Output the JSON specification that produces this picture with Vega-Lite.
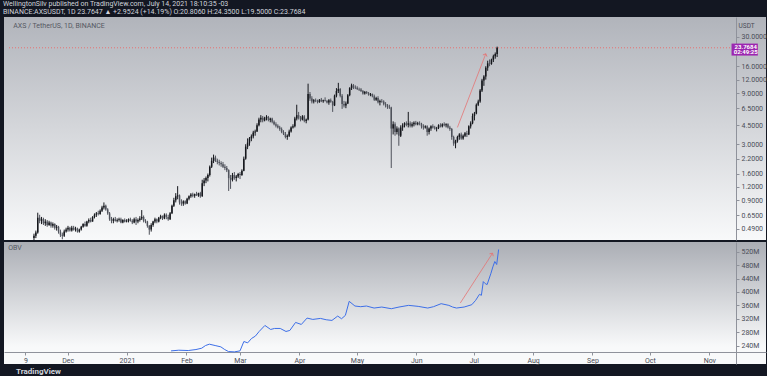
{
"$schema":"https://vega.github.io/schema/vega-lite/v6.json",
"background":"#131722",
"padding":{"left":3,"top":0,"right":0,"bottom":0},
"spacing":1,
"config":{"font":"Roboto","view":{"stroke":null},
 "axis":{"grid":false,"domainColor":"#8f929b","tickColor":"#8f929b","tickSize":3,"labelColor":"#4a4d57","labelFontSize":7,"labelPadding":2,"labelOverlap":false,"labelBound":false,"labelFlush":false},
 "axisX":{"labelPadding":1}},
"title":{"text":"WellingtonSilv published on TradingView.com, July 14, 2021 18:10:35 -03","subtitle":"BINANCE:AXSUSDT, 1D 23.7647 ▲ +2.9524 (+14.19%) O:20.8060 H:24.3500 L:19.5000 C:23.7684","anchor":"start","fontSize":7,"fontWeight":"normal","color":"#d1d4dc","subtitleFontSize":7,"subtitleColor":"#d1d4dc","subtitlePadding":1,"offset":2,"dx":-1},
"datasets":{
"c":[
{"t":"2020-11-11","o":0.40,"h":0.44,"l":0.38,"c":0.42},
{"t":"2020-11-12","o":0.42,"h":0.47,"l":0.40,"c":0.45},
{"t":"2020-11-13","o":0.45,"h":0.69,"l":0.44,"c":0.62},
{"t":"2020-11-14","o":0.62,"h":0.66,"l":0.55,"c":0.58},
{"t":"2020-11-15","o":0.58,"h":0.63,"l":0.54,"c":0.60},
{"t":"2020-11-16","o":0.60,"h":0.62,"l":0.53,"c":0.55},
{"t":"2020-11-17","o":0.55,"h":0.60,"l":0.52,"c":0.57},
{"t":"2020-11-18","o":0.57,"h":0.59,"l":0.51,"c":0.53},
{"t":"2020-11-19","o":0.53,"h":0.58,"l":0.52,"c":0.56},
{"t":"2020-11-20","o":0.56,"h":0.57,"l":0.50,"c":0.52},
{"t":"2020-11-21","o":0.52,"h":0.56,"l":0.50,"c":0.54},
{"t":"2020-11-22","o":0.54,"h":0.55,"l":0.48,"c":0.50},
{"t":"2020-11-23","o":0.50,"h":0.53,"l":0.47,"c":0.51},
{"t":"2020-11-24","o":0.51,"h":0.52,"l":0.44,"c":0.46},
{"t":"2020-11-25","o":0.46,"h":0.48,"l":0.41,"c":0.43},
{"t":"2020-11-26","o":0.43,"h":0.45,"l":0.39,"c":0.42},
{"t":"2020-11-27","o":0.42,"h":0.48,"l":0.41,"c":0.46},
{"t":"2020-11-28","o":0.46,"h":0.50,"l":0.45,"c":0.48},
{"t":"2020-11-29","o":0.48,"h":0.52,"l":0.46,"c":0.50},
{"t":"2020-11-30","o":0.50,"h":0.51,"l":0.46,"c":0.47},
{"t":"2020-12-01","o":0.47,"h":0.52,"l":0.46,"c":0.50},
{"t":"2020-12-02","o":0.50,"h":0.52,"l":0.47,"c":0.48},
{"t":"2020-12-03","o":0.48,"h":0.51,"l":0.46,"c":0.49},
{"t":"2020-12-04","o":0.49,"h":0.50,"l":0.45,"c":0.46},
{"t":"2020-12-05","o":0.46,"h":0.49,"l":0.45,"c":0.48},
{"t":"2020-12-06","o":0.48,"h":0.52,"l":0.47,"c":0.51},
{"t":"2020-12-07","o":0.51,"h":0.55,"l":0.50,"c":0.54},
{"t":"2020-12-08","o":0.54,"h":0.57,"l":0.51,"c":0.52},
{"t":"2020-12-09","o":0.52,"h":0.58,"l":0.51,"c":0.57},
{"t":"2020-12-10","o":0.57,"h":0.61,"l":0.55,"c":0.59},
{"t":"2020-12-11","o":0.59,"h":0.62,"l":0.56,"c":0.57},
{"t":"2020-12-12","o":0.57,"h":0.64,"l":0.57,"c":0.63},
{"t":"2020-12-13","o":0.63,"h":0.68,"l":0.61,"c":0.66},
{"t":"2020-12-14","o":0.66,"h":0.70,"l":0.63,"c":0.68},
{"t":"2020-12-15","o":0.68,"h":0.72,"l":0.65,"c":0.67},
{"t":"2020-12-16","o":0.67,"h":0.74,"l":0.66,"c":0.72},
{"t":"2020-12-17","o":0.72,"h":0.80,"l":0.70,"c":0.77},
{"t":"2020-12-18","o":0.77,"h":0.86,"l":0.74,"c":0.80},
{"t":"2020-12-19","o":0.80,"h":0.82,"l":0.72,"c":0.74},
{"t":"2020-12-20","o":0.74,"h":0.76,"l":0.66,"c":0.68},
{"t":"2020-12-21","o":0.68,"h":0.70,"l":0.58,"c":0.60},
{"t":"2020-12-22","o":0.60,"h":0.63,"l":0.55,"c":0.58},
{"t":"2020-12-23","o":0.58,"h":0.62,"l":0.55,"c":0.60},
{"t":"2020-12-24","o":0.60,"h":0.63,"l":0.57,"c":0.58},
{"t":"2020-12-25","o":0.58,"h":0.61,"l":0.56,"c":0.59},
{"t":"2020-12-26","o":0.59,"h":0.62,"l":0.57,"c":0.60},
{"t":"2020-12-27","o":0.60,"h":0.62,"l":0.55,"c":0.56},
{"t":"2020-12-28","o":0.56,"h":0.60,"l":0.55,"c":0.59},
{"t":"2020-12-29","o":0.59,"h":0.61,"l":0.56,"c":0.57},
{"t":"2020-12-30","o":0.57,"h":0.60,"l":0.56,"c":0.58},
{"t":"2020-12-31","o":0.58,"h":0.61,"l":0.56,"c":0.60},
{"t":"2021-01-01","o":0.60,"h":0.62,"l":0.57,"c":0.58},
{"t":"2021-01-02","o":0.58,"h":0.60,"l":0.54,"c":0.56},
{"t":"2021-01-03","o":0.56,"h":0.62,"l":0.55,"c":0.60},
{"t":"2021-01-04","o":0.60,"h":0.63,"l":0.53,"c":0.57},
{"t":"2021-01-05","o":0.57,"h":0.61,"l":0.55,"c":0.59},
{"t":"2021-01-06","o":0.59,"h":0.64,"l":0.57,"c":0.61},
{"t":"2021-01-07","o":0.61,"h":0.73,"l":0.59,"c":0.63},
{"t":"2021-01-08","o":0.63,"h":0.65,"l":0.56,"c":0.58},
{"t":"2021-01-09","o":0.58,"h":0.60,"l":0.55,"c":0.57},
{"t":"2021-01-10","o":0.57,"h":0.58,"l":0.50,"c":0.52},
{"t":"2021-01-11","o":0.52,"h":0.53,"l":0.43,"c":0.48},
{"t":"2021-01-12","o":0.48,"h":0.55,"l":0.46,"c":0.53},
{"t":"2021-01-13","o":0.53,"h":0.58,"l":0.51,"c":0.57},
{"t":"2021-01-14","o":0.57,"h":0.62,"l":0.55,"c":0.60},
{"t":"2021-01-15","o":0.60,"h":0.61,"l":0.55,"c":0.57},
{"t":"2021-01-16","o":0.57,"h":0.63,"l":0.56,"c":0.62},
{"t":"2021-01-17","o":0.62,"h":0.66,"l":0.60,"c":0.64},
{"t":"2021-01-18","o":0.64,"h":0.65,"l":0.59,"c":0.61},
{"t":"2021-01-19","o":0.61,"h":0.68,"l":0.60,"c":0.66},
{"t":"2021-01-20","o":0.66,"h":0.68,"l":0.60,"c":0.63},
{"t":"2021-01-21","o":0.63,"h":0.66,"l":0.58,"c":0.60},
{"t":"2021-01-22","o":0.60,"h":0.70,"l":0.59,"c":0.68},
{"t":"2021-01-23","o":0.68,"h":0.82,"l":0.67,"c":0.80},
{"t":"2021-01-24","o":0.80,"h":0.95,"l":0.78,"c":0.90},
{"t":"2021-01-25","o":0.90,"h":1.05,"l":0.86,"c":0.98},
{"t":"2021-01-26","o":0.98,"h":1.22,"l":0.92,"c":1.00},
{"t":"2021-01-27","o":1.00,"h":1.02,"l":0.82,"c":0.86},
{"t":"2021-01-28","o":0.86,"h":0.92,"l":0.80,"c":0.84},
{"t":"2021-01-29","o":0.84,"h":0.90,"l":0.80,"c":0.88},
{"t":"2021-01-30","o":0.88,"h":0.90,"l":0.82,"c":0.84},
{"t":"2021-01-31","o":0.84,"h":0.95,"l":0.83,"c":0.93},
{"t":"2021-02-01","o":0.93,"h":1.00,"l":0.90,"c":0.98},
{"t":"2021-02-02","o":0.98,"h":1.05,"l":0.95,"c":1.02},
{"t":"2021-02-03","o":1.02,"h":1.06,"l":0.96,"c":0.99},
{"t":"2021-02-04","o":0.99,"h":1.04,"l":0.95,"c":1.03},
{"t":"2021-02-05","o":1.03,"h":1.08,"l":0.99,"c":1.00},
{"t":"2021-02-06","o":1.00,"h":1.06,"l":0.97,"c":1.05},
{"t":"2021-02-07","o":1.05,"h":1.08,"l":0.95,"c":0.98},
{"t":"2021-02-08","o":0.98,"h":1.40,"l":0.97,"c":1.30},
{"t":"2021-02-09","o":1.30,"h":1.45,"l":1.22,"c":1.38},
{"t":"2021-02-10","o":1.38,"h":1.50,"l":1.30,"c":1.45},
{"t":"2021-02-11","o":1.45,"h":1.60,"l":1.35,"c":1.55},
{"t":"2021-02-12","o":1.55,"h":1.90,"l":1.50,"c":1.85},
{"t":"2021-02-13","o":1.85,"h":2.25,"l":1.80,"c":2.10},
{"t":"2021-02-14","o":2.10,"h":2.40,"l":2.00,"c":2.25},
{"t":"2021-02-15","o":2.25,"h":2.35,"l":2.05,"c":2.10},
{"t":"2021-02-16","o":2.10,"h":2.20,"l":1.95,"c":2.05},
{"t":"2021-02-17","o":2.05,"h":2.15,"l":1.90,"c":2.00},
{"t":"2021-02-18","o":2.00,"h":2.08,"l":1.85,"c":1.95},
{"t":"2021-02-19","o":1.95,"h":2.05,"l":1.80,"c":1.85},
{"t":"2021-02-20","o":1.85,"h":1.95,"l":1.72,"c":1.80},
{"t":"2021-02-21","o":1.80,"h":1.88,"l":1.65,"c":1.72},
{"t":"2021-02-22","o":1.72,"h":1.75,"l":1.10,"c":1.45},
{"t":"2021-02-23","o":1.45,"h":1.55,"l":1.15,"c":1.40},
{"t":"2021-02-24","o":1.40,"h":1.62,"l":1.35,"c":1.55},
{"t":"2021-02-25","o":1.55,"h":1.65,"l":1.40,"c":1.45},
{"t":"2021-02-26","o":1.45,"h":1.55,"l":1.35,"c":1.50},
{"t":"2021-02-27","o":1.50,"h":1.62,"l":1.45,"c":1.58},
{"t":"2021-02-28","o":1.58,"h":1.65,"l":1.42,"c":1.55},
{"t":"2021-03-01","o":1.55,"h":1.75,"l":1.52,"c":1.70},
{"t":"2021-03-02","o":1.70,"h":2.30,"l":1.68,"c":2.20},
{"t":"2021-03-03","o":2.20,"h":3.00,"l":2.15,"c":2.85},
{"t":"2021-03-04","o":2.85,"h":3.40,"l":2.70,"c":3.10},
{"t":"2021-03-05","o":3.10,"h":3.50,"l":2.90,"c":3.40},
{"t":"2021-03-06","o":3.40,"h":3.70,"l":3.20,"c":3.55},
{"t":"2021-03-07","o":3.55,"h":4.00,"l":3.40,"c":3.85},
{"t":"2021-03-08","o":3.85,"h":4.10,"l":3.60,"c":3.95},
{"t":"2021-03-09","o":3.95,"h":4.70,"l":3.90,"c":4.50},
{"t":"2021-03-10","o":4.50,"h":5.30,"l":4.40,"c":5.10},
{"t":"2021-03-11","o":5.10,"h":5.60,"l":4.80,"c":5.30},
{"t":"2021-03-12","o":5.30,"h":5.50,"l":4.80,"c":5.00},
{"t":"2021-03-13","o":5.00,"h":5.40,"l":4.90,"c":5.25},
{"t":"2021-03-14","o":5.25,"h":5.60,"l":5.00,"c":5.40},
{"t":"2021-03-15","o":5.40,"h":5.50,"l":4.90,"c":5.05},
{"t":"2021-03-16","o":5.05,"h":5.30,"l":4.80,"c":5.20},
{"t":"2021-03-17","o":5.20,"h":5.30,"l":4.70,"c":4.85},
{"t":"2021-03-18","o":4.85,"h":5.00,"l":4.50,"c":4.60},
{"t":"2021-03-19","o":4.60,"h":4.80,"l":4.30,"c":4.45},
{"t":"2021-03-20","o":4.45,"h":4.60,"l":4.20,"c":4.30},
{"t":"2021-03-21","o":4.30,"h":4.45,"l":4.00,"c":4.15},
{"t":"2021-03-22","o":4.15,"h":4.30,"l":3.80,"c":3.90},
{"t":"2021-03-23","o":3.90,"h":4.05,"l":3.65,"c":3.75},
{"t":"2021-03-24","o":3.75,"h":3.90,"l":3.40,"c":3.50},
{"t":"2021-03-25","o":3.50,"h":3.70,"l":3.30,"c":3.60},
{"t":"2021-03-26","o":3.60,"h":4.10,"l":3.50,"c":3.95},
{"t":"2021-03-27","o":3.95,"h":4.40,"l":3.85,"c":4.30},
{"t":"2021-03-28","o":4.30,"h":4.60,"l":4.20,"c":4.40},
{"t":"2021-03-29","o":4.40,"h":5.40,"l":4.30,"c":5.20},
{"t":"2021-03-30","o":5.20,"h":7.00,"l":5.00,"c":5.60},
{"t":"2021-03-31","o":5.60,"h":6.00,"l":5.10,"c":5.30},
{"t":"2021-04-01","o":5.30,"h":5.50,"l":4.90,"c":5.10},
{"t":"2021-04-02","o":5.10,"h":5.60,"l":5.00,"c":5.45},
{"t":"2021-04-03","o":5.45,"h":5.60,"l":4.80,"c":4.95},
{"t":"2021-04-04","o":4.95,"h":5.20,"l":4.70,"c":5.10},
{"t":"2021-04-05","o":5.10,"h":11.0,"l":5.00,"c":8.80},
{"t":"2021-04-06","o":8.80,"h":9.20,"l":7.60,"c":8.00},
{"t":"2021-04-07","o":8.00,"h":8.40,"l":7.20,"c":7.50},
{"t":"2021-04-08","o":7.50,"h":7.90,"l":7.20,"c":7.70},
{"t":"2021-04-09","o":7.70,"h":8.00,"l":7.40,"c":7.60},
{"t":"2021-04-10","o":7.60,"h":7.80,"l":7.20,"c":7.40},
{"t":"2021-04-11","o":7.40,"h":7.90,"l":7.30,"c":7.80},
{"t":"2021-04-12","o":7.80,"h":8.10,"l":7.40,"c":7.55},
{"t":"2021-04-13","o":7.55,"h":7.80,"l":7.30,"c":7.70},
{"t":"2021-04-14","o":7.70,"h":8.20,"l":7.50,"c":7.60},
{"t":"2021-04-15","o":7.60,"h":7.75,"l":7.20,"c":7.35},
{"t":"2021-04-16","o":7.35,"h":7.90,"l":7.00,"c":7.70},
{"t":"2021-04-17","o":7.70,"h":8.00,"l":7.30,"c":7.45},
{"t":"2021-04-18","o":7.45,"h":7.60,"l":6.00,"c":6.90},
{"t":"2021-04-19","o":6.90,"h":8.70,"l":6.80,"c":8.50},
{"t":"2021-04-20","o":8.50,"h":10.0,"l":8.20,"c":9.40},
{"t":"2021-04-21","o":9.40,"h":11.2,"l":9.00,"c":9.80},
{"t":"2021-04-22","o":9.80,"h":10.0,"l":8.20,"c":8.50},
{"t":"2021-04-23","o":8.50,"h":8.80,"l":6.40,"c":7.10},
{"t":"2021-04-24","o":7.10,"h":7.60,"l":6.60,"c":6.90},
{"t":"2021-04-25","o":6.90,"h":7.50,"l":6.50,"c":7.20},
{"t":"2021-04-26","o":7.20,"h":8.80,"l":7.10,"c":8.60},
{"t":"2021-04-27","o":8.60,"h":10.2,"l":8.40,"c":10.0},
{"t":"2021-04-28","o":10.0,"h":11.0,"l":9.60,"c":10.6},
{"t":"2021-04-29","o":10.6,"h":10.9,"l":9.80,"c":10.2},
{"t":"2021-04-30","o":10.2,"h":10.6,"l":9.80,"c":10.1},
{"t":"2021-05-01","o":10.1,"h":10.4,"l":9.6,"c":9.8},
{"t":"2021-05-02","o":9.8,"h":10.1,"l":9.4,"c":9.7},
{"t":"2021-05-03","o":9.7,"h":10.0,"l":9.2,"c":9.4},
{"t":"2021-05-04","o":9.4,"h":9.6,"l":8.7,"c":8.9},
{"t":"2021-05-05","o":8.9,"h":9.4,"l":8.7,"c":9.2},
{"t":"2021-05-06","o":9.2,"h":9.4,"l":8.8,"c":9.0},
{"t":"2021-05-07","o":9.0,"h":9.2,"l":8.5,"c":8.7},
{"t":"2021-05-08","o":8.7,"h":9.0,"l":8.4,"c":8.8},
{"t":"2021-05-09","o":8.8,"h":8.9,"l":8.2,"c":8.4},
{"t":"2021-05-10","o":8.4,"h":8.7,"l":7.6,"c":7.8},
{"t":"2021-05-11","o":7.8,"h":8.3,"l":7.6,"c":8.1},
{"t":"2021-05-12","o":8.1,"h":8.4,"l":7.2,"c":7.4},
{"t":"2021-05-13","o":7.4,"h":7.8,"l":6.9,"c":7.6},
{"t":"2021-05-14","o":7.6,"h":7.9,"l":7.3,"c":7.5},
{"t":"2021-05-15","o":7.5,"h":7.7,"l":6.9,"c":7.1},
{"t":"2021-05-16","o":7.1,"h":7.4,"l":6.6,"c":6.9},
{"t":"2021-05-17","o":6.9,"h":7.1,"l":6.4,"c":6.7},
{"t":"2021-05-18","o":6.7,"h":7.0,"l":6.4,"c":6.6},
{"t":"2021-05-19","o":6.6,"h":6.7,"l":1.8,"c":4.2},
{"t":"2021-05-20","o":4.2,"h":4.9,"l":3.7,"c":4.6},
{"t":"2021-05-21","o":4.6,"h":4.8,"l":3.6,"c":3.9},
{"t":"2021-05-22","o":3.9,"h":4.4,"l":3.7,"c":4.2},
{"t":"2021-05-23","o":4.2,"h":4.3,"l":2.9,"c":3.6},
{"t":"2021-05-24","o":3.6,"h":4.5,"l":3.5,"c":4.3},
{"t":"2021-05-25","o":4.3,"h":4.7,"l":4.0,"c":4.5},
{"t":"2021-05-26","o":4.5,"h":4.8,"l":4.3,"c":4.7},
{"t":"2021-05-27","o":4.7,"h":4.9,"l":4.4,"c":4.55},
{"t":"2021-05-28","o":4.55,"h":6.0,"l":4.3,"c":4.7},
{"t":"2021-05-29","o":4.7,"h":4.9,"l":4.3,"c":4.45},
{"t":"2021-05-30","o":4.45,"h":4.8,"l":4.3,"c":4.6},
{"t":"2021-05-31","o":4.6,"h":4.9,"l":4.4,"c":4.75},
{"t":"2021-06-01","o":4.75,"h":4.95,"l":4.5,"c":4.6},
{"t":"2021-06-02","o":4.6,"h":4.85,"l":4.5,"c":4.7},
{"t":"2021-06-03","o":4.7,"h":4.9,"l":4.5,"c":4.65},
{"t":"2021-06-04","o":4.65,"h":4.75,"l":4.2,"c":4.4},
{"t":"2021-06-05","o":4.4,"h":4.6,"l":4.1,"c":4.3},
{"t":"2021-06-06","o":4.3,"h":4.5,"l":4.2,"c":4.4},
{"t":"2021-06-07","o":4.4,"h":4.5,"l":3.6,"c":3.9},
{"t":"2021-06-08","o":3.9,"h":4.3,"l":3.7,"c":4.2},
{"t":"2021-06-09","o":4.2,"h":4.5,"l":4.0,"c":4.4},
{"t":"2021-06-10","o":4.4,"h":4.6,"l":4.2,"c":4.3},
{"t":"2021-06-11","o":4.3,"h":4.45,"l":4.1,"c":4.2},
{"t":"2021-06-12","o":4.2,"h":4.35,"l":3.95,"c":4.25},
{"t":"2021-06-13","o":4.25,"h":4.6,"l":4.15,"c":4.5},
{"t":"2021-06-14","o":4.5,"h":4.7,"l":4.3,"c":4.4},
{"t":"2021-06-15","o":4.4,"h":4.7,"l":4.3,"c":4.6},
{"t":"2021-06-16","o":4.6,"h":4.8,"l":4.4,"c":4.5},
{"t":"2021-06-17","o":4.5,"h":4.7,"l":4.3,"c":4.6},
{"t":"2021-06-18","o":4.6,"h":4.7,"l":4.2,"c":4.3},
{"t":"2021-06-19","o":4.3,"h":4.45,"l":4.0,"c":4.15},
{"t":"2021-06-20","o":4.15,"h":4.25,"l":3.3,"c":3.5},
{"t":"2021-06-21","o":3.5,"h":3.6,"l":2.9,"c":3.05},
{"t":"2021-06-22","o":3.05,"h":3.3,"l":2.75,"c":3.2},
{"t":"2021-06-23","o":3.2,"h":3.6,"l":3.1,"c":3.5},
{"t":"2021-06-24","o":3.5,"h":3.8,"l":3.3,"c":3.7},
{"t":"2021-06-25","o":3.7,"h":3.85,"l":3.3,"c":3.4},
{"t":"2021-06-26","o":3.4,"h":3.7,"l":3.3,"c":3.6},
{"t":"2021-06-27","o":3.6,"h":3.9,"l":3.5,"c":3.8},
{"t":"2021-06-28","o":3.8,"h":4.0,"l":3.5,"c":3.7},
{"t":"2021-06-29","o":3.7,"h":4.5,"l":3.65,"c":4.4},
{"t":"2021-06-30","o":4.4,"h":4.9,"l":4.2,"c":4.7},
{"t":"2021-07-01","o":4.7,"h":5.8,"l":4.6,"c":5.5},
{"t":"2021-07-02","o":5.5,"h":6.0,"l":5.0,"c":5.8},
{"t":"2021-07-03","o":5.8,"h":7.2,"l":5.7,"c":7.0},
{"t":"2021-07-04","o":7.0,"h":7.8,"l":6.8,"c":7.5},
{"t":"2021-07-05","o":7.5,"h":9.8,"l":7.3,"c":9.5},
{"t":"2021-07-06","o":9.5,"h":12.2,"l":9.2,"c":11.8},
{"t":"2021-07-07","o":11.8,"h":13.2,"l":10.5,"c":12.8},
{"t":"2021-07-08","o":12.8,"h":16.0,"l":12.0,"c":15.5},
{"t":"2021-07-09","o":15.5,"h":18.0,"l":14.5,"c":17.0},
{"t":"2021-07-10","o":17.0,"h":18.5,"l":16.0,"c":16.8},
{"t":"2021-07-11","o":16.8,"h":18.8,"l":16.5,"c":18.4},
{"t":"2021-07-12","o":18.4,"h":20.5,"l":17.5,"c":19.8},
{"t":"2021-07-13","o":19.8,"h":21.5,"l":18.8,"c":20.806},
{"t":"2021-07-14","o":20.806,"h":24.35,"l":19.5,"c":23.7684}
],
"obv":[
{"t":"2021-01-24","v":224},{"t":"2021-01-28","v":226},{"t":"2021-02-02","v":225},{"t":"2021-02-06","v":228},{"t":"2021-02-09","v":232},{"t":"2021-02-11","v":240},{"t":"2021-02-13","v":244},{"t":"2021-02-16","v":240},{"t":"2021-02-19","v":236},{"t":"2021-02-21","v":228},{"t":"2021-02-23","v":222},{"t":"2021-02-26","v":221},{"t":"2021-03-01","v":224},{"t":"2021-03-03","v":252},{"t":"2021-03-05","v":248},{"t":"2021-03-07","v":261},{"t":"2021-03-09","v":268},{"t":"2021-03-11","v":282},{"t":"2021-03-14","v":300},{"t":"2021-03-17","v":288},{"t":"2021-03-19","v":291},{"t":"2021-03-22","v":291},{"t":"2021-03-25","v":282},{"t":"2021-03-27","v":285},{"t":"2021-03-30","v":309},{"t":"2021-04-02","v":303},{"t":"2021-04-05","v":322},{"t":"2021-04-08","v":318},{"t":"2021-04-12","v":321},{"t":"2021-04-15","v":317},{"t":"2021-04-18","v":315},{"t":"2021-04-21","v":328},{"t":"2021-04-23","v":320},{"t":"2021-04-25","v":330},{"t":"2021-04-27","v":372},{"t":"2021-04-30","v":358},{"t":"2021-05-03","v":356},{"t":"2021-05-06","v":358},{"t":"2021-05-10","v":352},{"t":"2021-05-14","v":355},{"t":"2021-05-19","v":350},{"t":"2021-05-23","v":355},{"t":"2021-05-28","v":360},{"t":"2021-06-02","v":357},{"t":"2021-06-07","v":352},{"t":"2021-06-10","v":356},{"t":"2021-06-14","v":365},{"t":"2021-06-18","v":360},{"t":"2021-06-20","v":355},{"t":"2021-06-22","v":352},{"t":"2021-06-26","v":355},{"t":"2021-06-30","v":362},{"t":"2021-07-02","v":375},{"t":"2021-07-04","v":393},{"t":"2021-07-05","v":390},{"t":"2021-07-06","v":431},{"t":"2021-07-07","v":425},{"t":"2021-07-08","v":422},{"t":"2021-07-10","v":456},{"t":"2021-07-11","v":475},{"t":"2021-07-12","v":491},{"t":"2021-07-13","v":482},{"t":"2021-07-14","v":527}
],
"arr":[
{"p":1,"t1":"2021-06-23","v1":4.3,"t2":"2021-07-08","v2":20.9,"a":22},
{"p":2,"t1":"2021-06-24","v1":367,"t2":"2021-07-10T20:00:00Z","v2":516,"a":32}
],
"pl":[{"t":"2020-10-28T19:00:00Z","t2":"2021-11-14T21:00:00Z","v":23.7684}],
"pb":[{"t":"2021-11-15T00:00:00Z","t2":"2021-11-28T22:00:00Z","v":26.0,"v2":20.1}],
"ann":[
{"k":"lbl","t":"2020-10-31T00:00:00Z","v":38.3,"s":"AXS / TetherUS, 1D, BINANCE"},
{"k":"usdt","t":"2021-11-23T00:00:00Z","v":38.3,"s":"USDT"},
{"k":"p","t":"2021-11-22T12:00:00Z","v":24.4,"s":"23.7684"},
{"k":"p","t":"2021-11-22T12:00:00Z","v":21.5,"s":"02:49:25"},
{"k":"obv","t":"2020-10-31T00:00:00Z","v":532.8,"s":"OBV"}
]
},
"vconcat":[
{
"width":762,"height":223,
"view":{"stroke":null,"fill":{"gradient":"linear","x1":0,"y1":0,"x2":0,"y2":1,"stops":[{"offset":0,"color":"#b1b4bb"},{"offset":1,"color":"#f8f9fa"}]}},
"layer":[
{"data":{"name":"c"},"mark":{"type":"rule","strokeWidth":1},
 "encoding":{"x":{"field":"t","type":"temporal","axis":null,"scale":{"type":"utc","domain":[1603911600000,1638280800000]}},
  "y":{"field":"l","type":"quantitative","scale":{"type":"log","domain":[0.384,46],"nice":false},
   "axis":{"orient":"right","offset":-30,"values":[0.49,0.65,0.9,1.2,1.6,2.2,3,4.5,6.5,9,12,16,30],"format":".4f","title":null}},
  "y2":{"field":"h"},
  "color":{"condition":{"test":"datum.c >= datum.o","value":"#15171c"},"value":"#4f525b"}}},
{"data":{"name":"c"},"mark":{"type":"bar","size":1.5},
 "encoding":{"x":{"field":"t","type":"temporal","axis":null},
  "y":{"field":"o","type":"quantitative","axis":{"orient":"right","offset":-30,"values":[0.49,0.65,0.9,1.2,1.6,2.2,3,4.5,6.5,9,12,16,30],"format":".4f","title":null}},"y2":{"field":"c"},
  "color":{"condition":{"test":"datum.c >= datum.o","value":"#15171c"},"value":"#4f525b"}}},
{"data":{"name":"pl"},"mark":{"type":"rule","color":"#e57373","strokeDash":[1,2],"strokeWidth":1},
 "encoding":{"x":{"field":"t","type":"temporal","axis":null},"x2":{"field":"t2"},
  "y":{"field":"v","type":"quantitative","axis":{"orient":"right","offset":-30,"values":[0.49,0.65,0.9,1.2,1.6,2.2,3,4.5,6.5,9,12,16,30],"format":".4f","title":null}}}},
{"data":{"name":"arr"},"transform":[{"filter":"datum.p == 1"}],"mark":{"type":"rule","color":"#e57373","strokeWidth":0.8},
 "encoding":{"x":{"field":"t1","type":"temporal","axis":null},"x2":{"field":"t2"},
  "y":{"field":"v1","type":"quantitative","axis":{"orient":"right","offset":-30,"values":[0.49,0.65,0.9,1.2,1.6,2.2,3,4.5,6.5,9,12,16,30],"format":".4f","title":null}},"y2":{"field":"v2"}}},
{"data":{"name":"arr"},"transform":[{"filter":"datum.p == 1"}],"mark":{"type":"point","shape":"M-1,1L0,0L1,1","filled":false,"size":20,"color":"#e57373","strokeWidth":0.8,"opacity":1},
 "encoding":{"x":{"field":"t2","type":"temporal","axis":null},
  "y":{"field":"v2","type":"quantitative","axis":{"orient":"right","offset":-30,"values":[0.49,0.65,0.9,1.2,1.6,2.2,3,4.5,6.5,9,12,16,30],"format":".4f","title":null}},"angle":{"field":"a","type":"quantitative","scale":null}}},
{"data":{"name":"pb"},"mark":{"type":"rect","color":"#9c27b0"},
 "encoding":{"x":{"field":"t","type":"temporal","axis":null},"x2":{"field":"t2"},
  "y":{"field":"v","type":"quantitative","axis":{"orient":"right","offset":-30,"values":[0.49,0.65,0.9,1.2,1.6,2.2,3,4.5,6.5,9,12,16,30],"format":".4f","title":null}},"y2":{"field":"v2"}}},
{"data":{"name":"ann"},"transform":[{"filter":"datum.k == 'lbl'"}],"mark":{"type":"text","align":"left","baseline":"middle","fontSize":7,"color":"#555862"},
 "encoding":{"x":{"field":"t","type":"temporal","axis":null},
  "y":{"field":"v","type":"quantitative","axis":{"orient":"right","offset":-30,"values":[0.49,0.65,0.9,1.2,1.6,2.2,3,4.5,6.5,9,12,16,30],"format":".4f","title":null}},"text":{"field":"s"}}},
{"data":{"name":"ann"},"transform":[{"filter":"datum.k == 'usdt'"}],"mark":{"type":"text","align":"center","baseline":"middle","fontSize":6.5,"color":"#4a4d57"},
 "encoding":{"x":{"field":"t","type":"temporal","axis":null},
  "y":{"field":"v","type":"quantitative","axis":{"orient":"right","offset":-30,"values":[0.49,0.65,0.9,1.2,1.6,2.2,3,4.5,6.5,9,12,16,30],"format":".4f","title":null}},"text":{"field":"s"}}},
{"data":{"name":"ann"},"transform":[{"filter":"datum.k == 'p'"}],"mark":{"type":"text","align":"center","baseline":"middle","fontSize":6,"fontWeight":"bold","color":"#ffffff"},
 "encoding":{"x":{"field":"t","type":"temporal","axis":null},
  "y":{"field":"v","type":"quantitative","axis":{"orient":"right","offset":-30,"values":[0.49,0.65,0.9,1.2,1.6,2.2,3,4.5,6.5,9,12,16,30],"format":".4f","title":null}},"text":{"field":"s"}}}
]
},
{
"width":762,"height":122,
"title":{"text":"TradingView","orient":"bottom","anchor":"start","fontSize":8,"fontWeight":"bold","color":"#d1d4dc","offset":4,"dx":12},
"view":{"stroke":null,"fill":{"gradient":"linear","x1":0,"y1":0,"x2":0,"y2":1,"stops":[{"offset":0,"color":"#abaeb5"},{"offset":0.86,"color":"#f8f9fa"},{"offset":1,"color":"#f8f9fa"}]}},
"layer":[
{"data":{"name":"obv"},"mark":{"type":"line","color":"#3d6fe8","strokeWidth":1,"clip":true},
 "encoding":{"x":{"field":"t","type":"temporal","scale":{"type":"utc","domain":[1603911600000,1638280800000]},
   "axis":{"orient":"bottom","offset":-12,"title":null,"values":[1604880000000,1606780800000,1609459200000,1612137600000,1614556800000,1617235200000,1619827200000,1622505600000,1625097600000,1627776000000,1630454400000,1633046400000,1635724800000],"labelExpr":"utcmonth(datum.value)==0 ? utcFormat(datum.value,'%Y') : (utcdate(datum.value)==9 ? '9' : utcFormat(datum.value,'%b'))"}},
  "y":{"field":"v","type":"quantitative","scale":{"domain":[184.8,549.3],"nice":false,"zero":false},
   "axis":{"orient":"right","offset":-30,"values":[240,280,320,360,400,440,480,520],"labelExpr":"datum.value + 'M'","title":null}}}},
{"data":{"name":"arr"},"transform":[{"filter":"datum.p == 2"}],"mark":{"type":"rule","color":"#e57373","strokeWidth":0.8},
 "encoding":{"x":{"field":"t1","type":"temporal","axis":{"orient":"bottom","offset":-12,"title":null,"values":[1604880000000,1606780800000,1609459200000,1612137600000,1614556800000,1617235200000,1619827200000,1622505600000,1625097600000,1627776000000,1630454400000,1633046400000,1635724800000],"labelExpr":"utcmonth(datum.value)==0 ? utcFormat(datum.value,'%Y') : (utcdate(datum.value)==9 ? '9' : utcFormat(datum.value,'%b'))"}},"x2":{"field":"t2"},
  "y":{"field":"v1","type":"quantitative","axis":{"orient":"right","offset":-30,"values":[240,280,320,360,400,440,480,520],"labelExpr":"datum.value + 'M'","title":null}},"y2":{"field":"v2"}}},
{"data":{"name":"arr"},"transform":[{"filter":"datum.p == 2"}],"mark":{"type":"point","shape":"M-1,1L0,0L1,1","filled":false,"size":20,"color":"#e57373","strokeWidth":0.8,"opacity":1},
 "encoding":{"x":{"field":"t2","type":"temporal","axis":{"orient":"bottom","offset":-12,"title":null,"values":[1604880000000,1606780800000,1609459200000,1612137600000,1614556800000,1617235200000,1619827200000,1622505600000,1625097600000,1627776000000,1630454400000,1633046400000,1635724800000],"labelExpr":"utcmonth(datum.value)==0 ? utcFormat(datum.value,'%Y') : (utcdate(datum.value)==9 ? '9' : utcFormat(datum.value,'%b'))"}},
  "y":{"field":"v2","type":"quantitative","axis":{"orient":"right","offset":-30,"values":[240,280,320,360,400,440,480,520],"labelExpr":"datum.value + 'M'","title":null}},"angle":{"field":"a","type":"quantitative","scale":null}}},
{"data":{"name":"ann"},"transform":[{"filter":"datum.k == 'obv'"}],"mark":{"type":"text","align":"left","baseline":"middle","fontSize":7,"color":"#555862"},
 "encoding":{"x":{"field":"t","type":"temporal","axis":{"orient":"bottom","offset":-12,"title":null,"values":[1604880000000,1606780800000,1609459200000,1612137600000,1614556800000,1617235200000,1619827200000,1622505600000,1625097600000,1627776000000,1630454400000,1633046400000,1635724800000],"labelExpr":"utcmonth(datum.value)==0 ? utcFormat(datum.value,'%Y') : (utcdate(datum.value)==9 ? '9' : utcFormat(datum.value,'%b'))"}},
  "y":{"field":"v","type":"quantitative","axis":{"orient":"right","offset":-30,"values":[240,280,320,360,400,440,480,520],"labelExpr":"datum.value + 'M'","title":null}},"text":{"field":"s"}}}
]
}
]
}
